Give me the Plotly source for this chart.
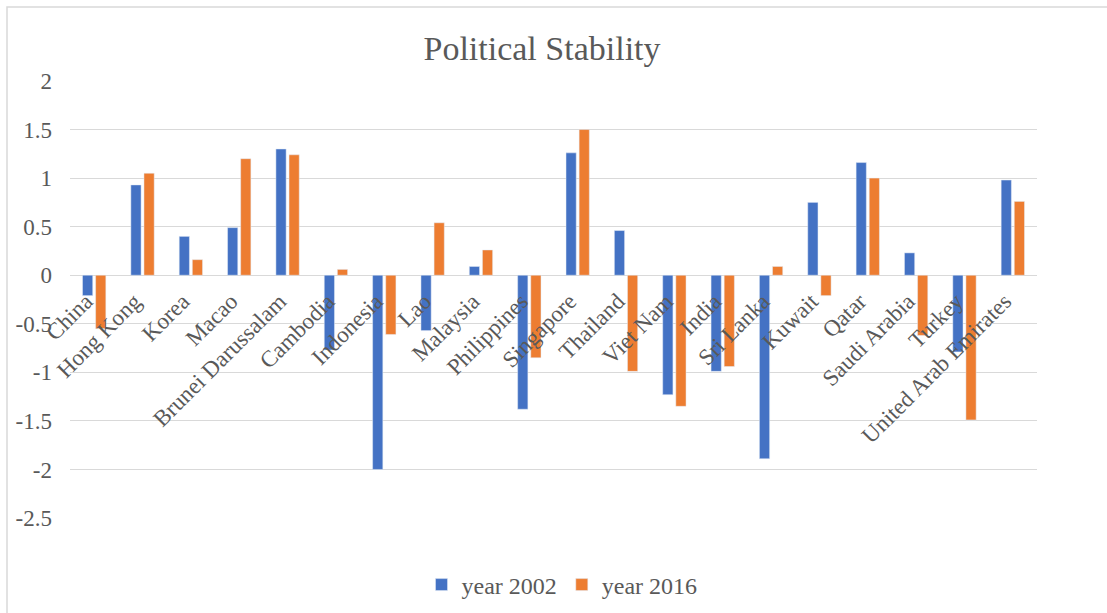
import plotly.graph_objects as go

countries = ["China", "Hong Kong", "Korea", "Macao", "Brunei Darussalam", "Cambodia",
             "Indonesia", "Lao", "Malaysia", "Philippines", "Singapore", "Thailand",
             "Viet Nam", "India", "Sri Lanka", "Kuwait", "Qatar", "Saudi Arabia",
             "Turkey", "United Arab Emirates"]
year_2002 = [-0.21, 0.93, 0.40, 0.49, 1.30, -0.77, -2.00, -0.57, 0.09, -1.38,
             1.26, 0.46, -1.23, -0.99, -1.89, 0.75, 1.16, 0.23, -0.79, 0.98]
year_2016 = [-0.55, 1.05, 0.16, 1.20, 1.24, 0.06, -0.61, 0.54, 0.26, -0.85,
             1.50, -0.99, -1.35, -0.94, 0.09, -0.21, 1.00, -0.62, -1.49, 0.76]
y_tickvals = [2, 1.5, 1, 0.5, 0, -0.5, -1, -1.5, -2, -2.5]
y_ticktext = ["2", "1.5", "1", "0.5", "0", "-0.5", "-1", "-1.5", "-2", "-2.5"]

FONT = "Liberation Serif"
GREY = "#595959"

fig = go.Figure()
fig.add_trace(go.Bar(x=countries, y=year_2002, name="year 2002",
                     marker=dict(color="#4472C4")))
fig.add_trace(go.Bar(x=countries, y=year_2016, name="year 2016",
                     marker=dict(color="#ED7D31")))

W, H = 1107, 613
L, R, T, B = 70, 70, 81, 95
ph = H - T - B
pw = W - L - R
zero_pos = (2.5) / 4.5 + 1 / ph  # paper fraction near y=0 for the category labels

fig.update_layout(
    width=W, height=H,
    margin=dict(l=L, r=R, t=T, b=B, autoexpand=False),
    paper_bgcolor="white", plot_bgcolor="white",
    font=dict(family=FONT, color=GREY, size=23),
    title=dict(text="Political Stability", x=(542) / W, xanchor="center",
               xref="container", yref="container", y=1 - 48 / H, yanchor="middle",
               font=dict(family=FONT, size=34, color=GREY)),
    barmode="group", bargap=0.458, bargroupgap=0.22,
    showlegend=True,
    legend=dict(orientation="h", x=(562 - L) / pw, xanchor="center",
                y=(H - B - 585) / ph, yanchor="middle",
                font=dict(family=FONT, size=24, color=GREY),
                itemwidth=30, tracegroupgap=0),
    xaxis=dict(anchor="free", position=zero_pos, showline=False, showgrid=False,
               ticks="", tickangle=-45, zeroline=False,
               tickmode="array", tickvals=countries,
               ticktext=[c + "\u00a0\u00a0" for c in countries],
               tickfont=dict(family=FONT, size=23, color=GREY), automargin=False),
    yaxis=dict(range=[-2.5, 2.0], tickvals=y_tickvals, ticktext=y_ticktext,
               showgrid=True, gridcolor="#D9D9D9", gridwidth=1,
               zeroline=True, zerolinecolor="#D9D9D9", zerolinewidth=1,
               showline=False, ticks="", ticklabelstandoff=17,
               tickfont=dict(family=FONT, size=23, color=GREY), automargin=False),
    shapes=[dict(type="rect", xref="paper", yref="paper",
                 x0=(7 - L) / pw, x1=(W + 20 - L) / pw,
                 y0=(H - B - (H + 20)) / ph, y1=(H - B - 7) / ph,
                 line=dict(color="#D9D9D9", width=1.5), fillcolor="rgba(0,0,0,0)",
                 layer="below")],
)

fig.write_html("out.html")
